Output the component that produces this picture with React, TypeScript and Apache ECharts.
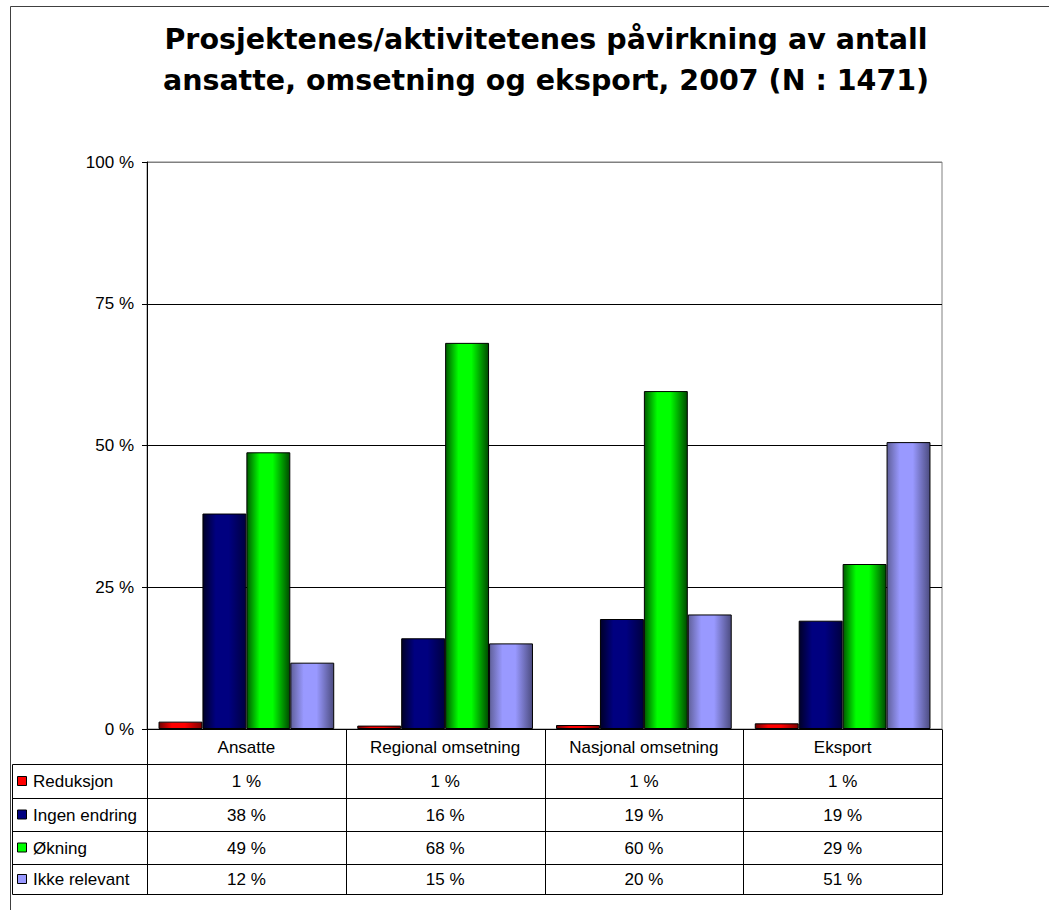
import React, { useEffect, useRef } from "react";
import * as echarts from "echarts";

const titleLines = [
  "Prosjektenes/aktivitetenes påvirkning av antall",
  "ansatte, omsetning og eksport, 2007 (N : 1471)",
];
const categories = ["Ansatte", "Regional omsetning", "Nasjonal omsetning", "Eksport"];
const seriesNames = ["Reduksjon", "Ingen endring", "Økning", "Ikke relevant"];
const reduksjon = [1.3, 0.6, 0.7, 1.0];
const ingenEndring = [38.0, 16.0, 19.4, 19.1];
const okning = [48.8, 68.1, 59.6, 29.1];
const ikkeRelevant = [11.7, 15.1, 20.2, 50.6];
const seriesValues = [reduksjon, ingenEndring, okning, ikkeRelevant];
const baseColors = ["#ff0000", "#000080", "#00ff00", "#9999ff"];
const gradientStops = [
  ["#700000", "#ff0000", "#ff0000", "#800000"],
  ["#000028", "#000080", "#000080", "#000040"],
  ["#005a00", "#00ff00", "#00ff00", "#004a00"],
  ["#60609a", "#9999ff", "#9999ff", "#4c4c80"],
];

const FONT = "'Liberation Sans', Arial, sans-serif";
const TITLE_FONT = "'DejaVu Sans', 'Liberation Sans', Arial, sans-serif";
const GRID = { left: 147, top: 162, width: 795, height: 567 };
const ROW_LINES = [764, 798, 831, 864, 894];
const TABLE_LEFT = 12;

export default function App() {
  const ref = useRef<HTMLDivElement>(null);
  useEffect(() => {
    if (!ref.current) return;
    const chart = echarts.init(ref.current, null, { renderer: "svg" });
    const option: any = {
      animation: false,
      backgroundColor: "#ffffff",
      grid: {
        left: GRID.left,
        top: GRID.top,
        width: GRID.width,
        height: GRID.height,
        show: true,
        borderColor: "#808080",
        borderWidth: 1,
        backgroundColor: "transparent",
      },
      xAxis: {
        type: "category",
        data: categories,
        axisLine: { lineStyle: { color: "#000", width: 1 } },
        axisTick: { show: false },
        axisLabel: { color: "#000", fontFamily: FONT, fontSize: 17, margin: 10 },
      },
      yAxis: {
        type: "value",
        min: 0,
        max: 100,
        interval: 25,
        axisLine: { show: true, lineStyle: { color: "#000", width: 1 } },
        axisTick: { show: true, length: 5, lineStyle: { color: "#000" } },
        axisLabel: {
          color: "#000",
          fontFamily: FONT,
          fontSize: 17,
          margin: 13,
          formatter: "{value} %",
        },
        splitLine: {
          show: true,
          lineStyle: { color: ["#000", "#000", "#000", "#000", "#808080"], width: 1 },
        },
      },
      series: seriesNames.map((name, si) => ({
        name,
        type: "bar",
        data: seriesValues[si],
        barGap: "0%",
        barCategoryGap: "11.6%",
        itemStyle: {
          color: {
            type: "linear",
            x: 0,
            y: 0,
            x2: 1,
            y2: 0,
            colorStops: [
              { offset: 0, color: gradientStops[si][0] },
              { offset: 0.3, color: gradientStops[si][1] },
              { offset: 0.6, color: gradientStops[si][2] },
              { offset: 1, color: gradientStops[si][3] },
            ],
          },
          borderColor: "#000",
          borderWidth: 1,
        },
      })),
    };
    chart.setOption(option);

    const bottom = GRID.top + GRID.height;
    const right = GRID.left + GRID.width;
    const graphics: any[] = [];
    // outer frame
    graphics.push({
      type: "rect",
      shape: { x: 10.5, y: 6.5, width: 1200, height: 1000 },
      style: { fill: "none", stroke: "#404040", lineWidth: 1 },
      z: 100,
    });
    // title
    titleLines.forEach((t, i) => {
      graphics.push({
        type: "text",
        x: 546,
        y: 39 + i * 41,
        style: {
          text: t,
          fill: "#000",
          font: `bold 28.5px ${TITLE_FONT}`,
          textAlign: "center",
          textVerticalAlign: "middle",
        },
      });
    });
    // table horizontal lines
    ROW_LINES.forEach((y) => {
      graphics.push({
        type: "line",
        shape: { x1: TABLE_LEFT + 0.5, y1: y + 0.5, x2: right + 0.5, y2: y + 0.5 },
        style: { stroke: "#000", lineWidth: 1 },
        z: 100,
      });
    });
    // table left border
    graphics.push({
      type: "line",
      shape: { x1: TABLE_LEFT + 0.5, y1: ROW_LINES[0] + 0.5, x2: TABLE_LEFT + 0.5, y2: ROW_LINES[ROW_LINES.length - 1] + 0.5 },
      style: { stroke: "#000", lineWidth: 1 },
      z: 100,
    });
    // vertical boundaries
    const bw = GRID.width / categories.length;
    for (let i = 0; i <= categories.length; i++) {
      const x = Math.round(GRID.left + i * bw) + 0.5;
      graphics.push({
        type: "line",
        shape: { x1: x, y1: bottom + 0.5, x2: x, y2: ROW_LINES[ROW_LINES.length - 1] + 0.5 },
        style: { stroke: "#000", lineWidth: 1 },
        z: 100,
      });
    }
    // row labels, legend keys and values
    seriesNames.forEach((name, si) => {
      const cy = (ROW_LINES[si] + ROW_LINES[si + 1]) / 2 + 0.5;
      graphics.push({
        type: "rect",
        shape: { x: 17.5, y: cy - 5, width: 9, height: 9 },
        style: { fill: baseColors[si], stroke: "#000", lineWidth: 1 },
        z: 100,
      });
      graphics.push({
        type: "text",
        x: 33,
        y: cy,
        style: {
          text: name,
          fill: "#000",
          font: `17px ${FONT}`,
          textAlign: "left",
          textVerticalAlign: "middle",
        },
        z: 100,
      });
      categories.forEach((c, ci) => {
        const px = chart.convertToPixel({ xAxisIndex: 0 }, c) as number;
        graphics.push({
          type: "text",
          x: px,
          y: cy,
          style: {
            text: `${Math.round(seriesValues[si][ci])} %`,
            fill: "#000",
            font: `17px ${FONT}`,
            textAlign: "center",
            textVerticalAlign: "middle",
          },
          z: 100,
        });
      });
    });
    chart.setOption({ graphic: { elements: graphics } });

    return () => chart.dispose();
  }, []);
  return (
    <div
      ref={ref}
      style={{ position: "absolute", left: 0, top: 0, width: 1049, height: 910, background: "#fff" }}
    />
  );
}
